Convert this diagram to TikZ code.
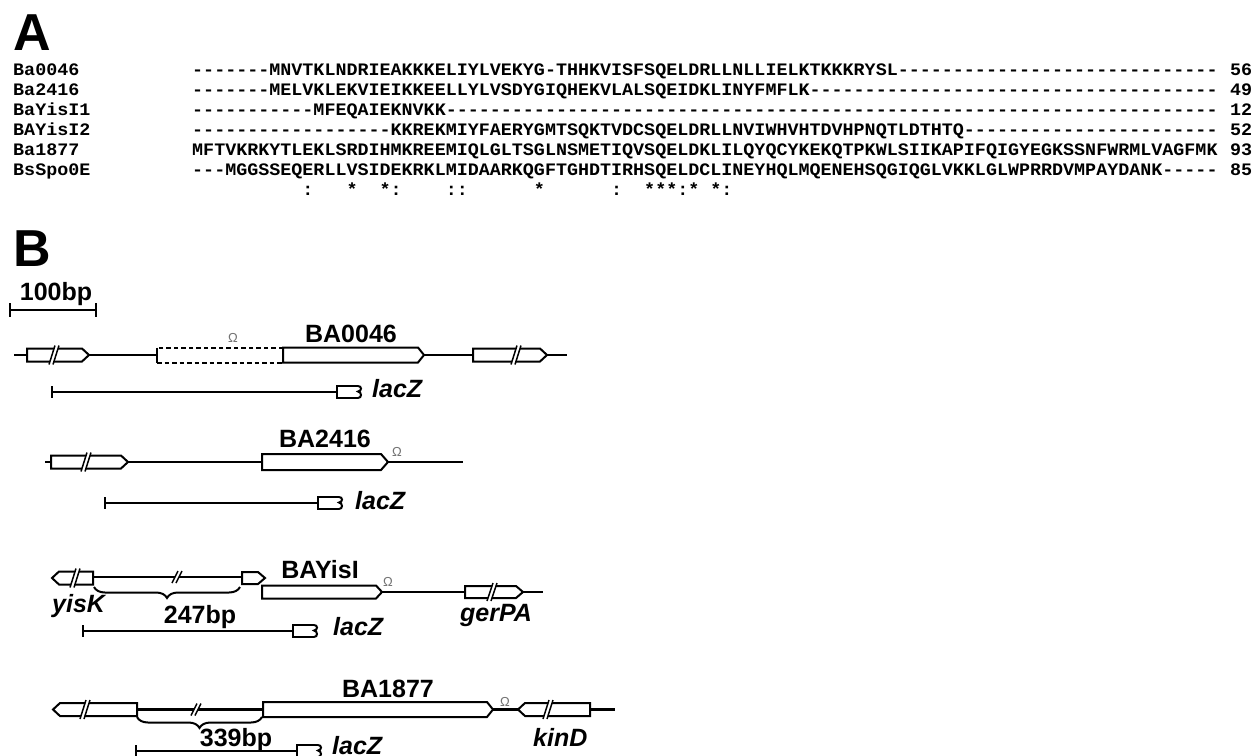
\documentclass[tikz,border=0pt]{standalone}
\usepackage{fontspec}
\setmainfont{Liberation Sans}
\setmonofont[FakeStretch=1.05]{Liberation Mono}
\usetikzlibrary{decorations.pathreplacing}
\newcommand\generight[5]{% body start, body end, tip, yc, h
  \draw[gene] (#1,#4-#5) -- (#2,#4-#5) -- (#3,#4) -- (#2,#4+#5) -- (#1,#4+#5) -- cycle;}
\newcommand\geneleft[5]{% tip, body start, body end, yc, h
  \draw[gene] (#2,#4-#5) -- (#3,#4-#5) -- (#3,#4+#5) -- (#2,#4+#5) -- (#1,#4) -- cycle;}
\newcommand\gbrk[3]{% x, yc, h
  \fill[white] (#1-5,#2+#3+3) -- (#1+1,#2-#3-3) -- (#1+5,#2-#3-3) -- (#1-1,#2+#3+3) -- cycle;
  \draw[line width=1.5pt] (#1-5,#2+#3+3) -- (#1+1,#2-#3-3) (#1-1,#2+#3+3) -- (#1+5,#2-#3-3);}
\newcommand\laczbox[2]{% x, y
  \draw[thin] (#1+21,#2-6) -- (#1,#2-6) -- (#1,#2+6) -- (#1+21,#2+6);
  \draw[thin] (#1+21,#2-6) .. controls (#1+25,#2-6) and (#1+25,#2-1) .. (#1+21,#2-0.5)
     .. controls (#1+25,#2) and (#1+25,#2+6) .. (#1+21,#2+6);}
\begin{document}
\begin{tikzpicture}[x=1pt,y=-1pt]
\tikzset{
 seq/.style={font=\ttfamily\bfseries\fontsize{17.5}{20}\selectfont, inner sep=0, anchor=base west},
 big/.style={font=\bfseries\fontsize{52}{60}\selectfont, inner sep=0, anchor=base west},
 lbl/.style={font=\bfseries\fontsize{25}{30}\selectfont, inner sep=0, anchor=base},
 ital/.style={font=\bfseries\itshape\fontsize{25}{30}\selectfont, inner sep=0, anchor=base west},
 omega/.style={font=\fontsize{13}{15}\selectfont, text=black!55, inner sep=0},
 dna/.style={line width=2.3pt},
 gene/.style={line width=2pt, fill=white},
 thin/.style={line width=2pt},
 bracestyle/.style={line width=2pt, decorate, decoration={brace, mirror, amplitude=11pt}},
}
\useasboundingbox (0,0) rectangle (1260,755);
% ---------- A ----------
\node[big] (A) at (13,50) {A};
\node[seq] (n1) at (13,75) {Ba0046};
\node[seq] (n2) at (13,95) {Ba2416};
\node[seq] (n3) at (13,115) {BaYisI1};
\node[seq] (n4) at (13,135) {BAYisI2};
\node[seq] (n5) at (13,155) {Ba1877};
\node[seq] (n6) at (13,175) {BsSpo0E};
\node[seq] (s1) at (192,75) {-------MNVTKLNDRIEAKKKELIYLVEKYG-THHKVISFSQELDRLLNLLIELKTKKKRYSL-----------------------------};
\node[seq] (s2) at (192,95) {-------MELVKLEKVIEIKKEELLYLVSDYGIQHEKVLALSQEIDKLINYFMFLK-------------------------------------};
\node[seq] (s3) at (192,115) {-----------MFEQAIEKNVKK----------------------------------------------------------------------};
\node[seq] (s4) at (192,135) {------------------KKREKMIYFAERYGMTSQKTVDCSQELDRLLNVIWHVHTDVHPNQTLDTHTQ-----------------------};
\node[seq] (s5) at (192,155) {MFTVKRKYTLEKLSRDIHMKREEMIQLGLTSGLNSMETIQVSQELDKLILQYQCYKEKQTPKWLSIIKAPIFQIGYEGKSSNFWRMLVAGFMK};
\node[seq] (s6) at (192,175) {---MGGSSEQERLLVSIDEKRKLMIDAARKQGFTGHDTIRHSQELDCLINEYHQLMQENEHSQGIQGLVKKLGLWPRRDVMPAYDANK-----};
\node[seq] (e1) at (1230,75) {56};
\node[seq] (e2) at (1230,95) {49};
\node[seq] (e3) at (1230,115) {12};
\node[seq] (e4) at (1230,135) {52};
\node[seq] (e5) at (1230,155) {93};
\node[seq] (e6) at (1230,175) {85};
\foreach \c/\s in {10/:,14/*,17/*,18/:,23/:,24/:,31/*,38/:,41/*,42/*,43/*,44/:,45/*,47/*,48/:}
  \node[seq] (c\c) at ({192+11.025*\c},195) {\s};
% ---------- B ----------
\node[big] (B) at (13,266) {B};
\node[lbl] (bp) at (56,300) {100bp};
\draw[thin] (10,310) -- (96,310);
\draw[thin] (10,303) -- (10,317) (96,303) -- (96,317);
% row 1
\draw[dna] (14,355) -- (27,355);
\generight{27}{82}{89}{355}{6.5}\gbrk{54}{355}{6.5}
\draw[dna] (89,355) -- (157,355);
\draw[gene, dash pattern=on 4.5pt off 3pt] (283,347.5) -- (157,347.5) (157,362.5) -- (283,362.5);
\draw[gene] (157,347.5) -- (157,362.5);
\generight{283}{418}{424}{355}{7.5}
\draw[dna] (424,355) -- (473,355);
\generight{473}{540}{547}{355}{6.5}\gbrk{516}{355}{6.5}
\draw[dna] (547,355) -- (567,355);
\node[omega] (o1) at (233,338) {Ω};
\node[lbl] (g1) at (351,342) {BA0046};
\draw[thin] (52,386) -- (52,398) (52,392) -- (337,392);
\laczbox{337}{392}
\node[ital] (l1) at (372,397) {lacZ};
% row 2
\draw[dna] (45,462) -- (51,462);
\generight{51}{121}{128}{462}{6.5}\gbrk{86}{462}{6.5}
\draw[dna] (128,462) -- (262,462);
\generight{262}{381}{388}{462}{8}
\draw[dna] (388,462) -- (463,462);
\node[omega] (o2) at (397,452) {Ω};
\node[lbl] (g2) at (325,447) {BA2416};
\draw[thin] (105,497) -- (105,509) (105,503) -- (318,503);
\laczbox{318}{503}
\node[ital] (l2) at (355,509) {lacZ};
% row 3
\geneleft{52}{59}{93}{578}{6.5}\gbrk{75}{578}{6.5}
\draw[dna] (93,577) -- (242,577);
\gbrk{177}{577}{3}
\generight{262}{376}{382}{592}{6.5}
\generight{242}{258}{265}{578}{6}
\draw[dna] (382,592) -- (465,592);
\generight{465}{516}{523}{592}{6}\gbrk{492}{592}{6}
\draw[dna] (523,592) -- (543,592);
\node[omega] (o3) at (388,582) {Ω};
\node[lbl] (g3) at (320,578) {BAYisI};
\node[ital] (yk) at (52,612) {yisK};
\node[ital] (gp) at (460,621) {gerPA};
\draw[bracestyle] (94,587) -- (240,587);
\node[lbl] (b247) at (200,623) {247bp};
\draw[thin] (83,625) -- (83,637) (83,631) -- (293,631);
\laczbox{293}{631}
\node[ital] (l3) at (333,635) {lacZ};
% row 4
\geneleft{53}{60}{137}{709.5}{6.5}\gbrk{85}{709.5}{6.5}
\draw[dna] (137,709.5) -- (263,709.5);
\gbrk{196}{709.5}{3}
\generight{263}{487}{493}{709.5}{7.5}
\draw[dna] (493,709.5) -- (518,709.5);
\geneleft{518}{525}{590}{709.5}{6.5}\gbrk{548}{709.5}{6.5}
\draw[dna] (590,709.5) -- (615,709.5);
\node[omega] (o4) at (505,702) {Ω};
\node[lbl] (g4) at (388,697) {BA1877};
\node[ital] (kd) at (533,746) {kinD};
\draw[bracestyle] (137,717) -- (262,717);
\node[lbl] (b339) at (236,746) {339bp};
\draw[thin] (136,745) -- (136,757) (136,751) -- (297,751);
\laczbox{297}{751}
\node[ital] (l4) at (332,754) {lacZ};
\end{tikzpicture}
\end{document}
